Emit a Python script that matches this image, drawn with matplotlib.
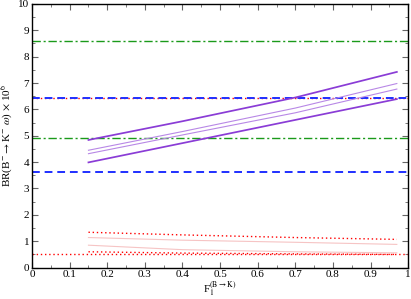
import matplotlib.pyplot as plt
import numpy as np

plt.rcParams['font.family'] = ['Liberation Serif', 'DejaVu Serif']
plt.rcParams['mathtext.fontset'] = 'stix'

# form factor range of the curves
f1 = [0.15, 0.4, 0.7, 0.97]

# purple band (theory)
purple_hi = [4.84, 5.55, 6.45, 7.42]
purple_lo = [3.99, 4.72, 5.60, 6.39]
purple_mid_hi = [4.45, 5.16, 6.05, 6.98]
purple_mid_lo = [4.32, 5.03, 5.87, 6.77]

# red band (theory)
red_hi = [1.34, 1.24, 1.14, 1.07]
red_lo = [0.60, 0.55, 0.52, 0.50]
red_mid_hi = [1.14, 1.04, 0.96, 0.88]
red_mid_lo = [0.85, 0.68, 0.60, 0.56]

# horizontal experimental bounds
green_levels = [8.6, 4.92]
blue_levels = [6.42, 3.62]
red_levels = [6.42, 0.5]

fig = plt.figure(figsize=(4.11, 2.99), dpi=100)
ax = fig.add_axes([0.078, 0.105, 0.915, 0.882])

for y in red_levels:
    ax.axhline(y, color='red', ls=(0, (1, 2)), lw=1.0)
for y in green_levels:
    ax.axhline(y, color='#1a9a1a', ls=(0, (6, 2, 1.5, 2)), lw=1.0)
for y in blue_levels:
    ax.axhline(y, color='#1f2fff', ls=(0, (4, 2.5)), lw=1.4)

ax.plot(f1, purple_hi, color='#8a3cd6', lw=1.25)
ax.plot(f1, purple_lo, color='#8a3cd6', lw=1.25)
ax.plot(f1, purple_mid_hi, color='#b888e6', lw=0.8)
ax.plot(f1, purple_mid_lo, color='#b888e6', lw=0.8)

ax.plot(f1, red_hi, color='red', ls=(0, (1, 2)), lw=1.0)
ax.plot(f1, red_lo, color='red', ls=(0, (1, 2)), lw=1.0)
ax.plot(f1, red_mid_hi, color='#f6c4c4', lw=0.8)
ax.plot(f1, red_mid_lo, color='#f6c4c4', lw=0.8)

ax.set_xlim(0, 1)
ax.set_ylim(0, 10)
ax.set_xticks(np.arange(0, 1.01, 0.1))
ax.set_xticklabels(['0', '0.1', '0.2', '0.3', '0.4', '0.5', '0.6', '0.7', '0.8', '0.9', '1'])
ax.set_xticks(np.arange(0.05, 1.0, 0.1), minor=True)
ax.set_yticks(range(0, 11))
ax.set_yticks(np.arange(0.5, 10, 1.0), minor=True)
ax.tick_params(which='both', direction='in', top=True, right=True, labelsize=8, pad=2)
ax.tick_params(which='major', length=4, color='#666666')
ax.tick_params(which='minor', length=2, color='#666666')
for s in ax.spines.values():
    s.set_linewidth(1.0)

ax.set_xlabel(r'F$_1^{(\mathrm{B}\rightarrow\mathrm{K})}$', fontsize=8, labelpad=0)
ax.set_ylabel(r'BR(B$^{-}\rightarrow$K$^{-}$ $\omega$) $\times$ 10$^{6}$', fontsize=8, labelpad=2)

fig.savefig('out.png', dpi=100)
